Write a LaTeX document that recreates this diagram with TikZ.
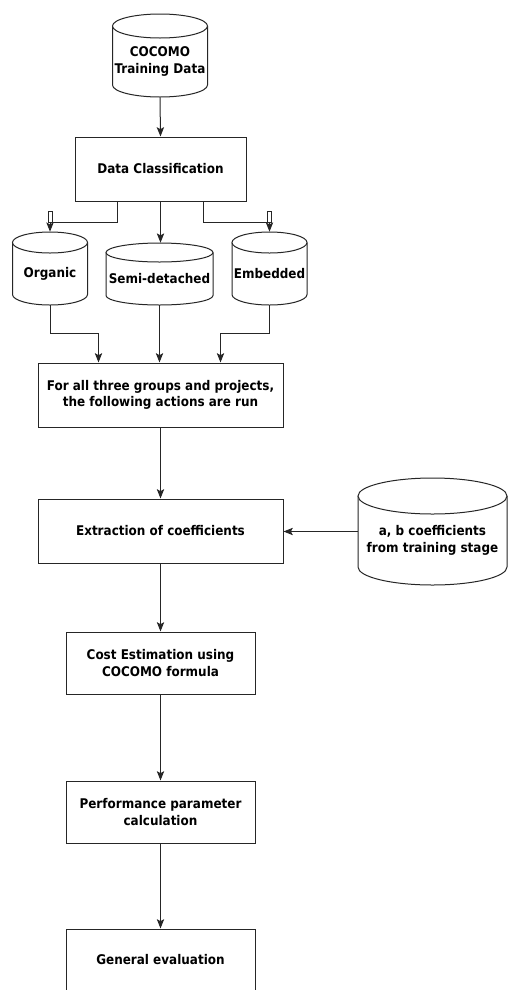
\documentclass[tikz,border=0pt]{standalone}
\usepackage{fontspec}
\setmainfont{DejaVu Sans Condensed}
\usetikzlibrary{calc,arrows.meta}

% database-style cylinder: name, centre x, top y, bottom y, half width, cap radius, text
\newcommand{\dbcylinder}[7]{%
  \fill[white] ({#2-#5},{#3+#6}) -- ({#2-#5},{#4-#6})
    arc[start angle=180,end angle=0,x radius=#5,y radius=#6]
    -- ({#2+#5},{#3+#6}) -- cycle;
  \draw[outline] ({#2-#5},{#3+#6}) -- ({#2-#5},{#4-#6})
    arc[start angle=180,end angle=0,x radius=#5,y radius=#6]
    -- ({#2+#5},{#3+#6});
  \draw[outline,fill=white] (#2,{#3+#6}) ellipse[x radius=#5,y radius=#6];
  \node[anchor=center,inner sep=0pt,minimum width={2*#5*0.75pt},
        minimum height={(#4-#3)*0.75pt}] (#1) at (#2,{(#3+#4)/2}) {};
  \node[label] (#1-txt) at (#2,{(#3+#4)/2+#6/2}) {#7};
}

\begin{document}
\begin{tikzpicture}[x=0.75pt,y=-0.75pt,
  outline/.style={draw=black!85,line width=0.75pt},
  label/.style={font=\fontsize{10}{12.5}\selectfont\bfseries,align=center,
                text=black,inner sep=0pt},
  procbox/.style={outline,fill=white,label,minimum width=#1},
  flow/.style={draw=black!85,line width=0.75pt,
               -{Stealth[length=7pt,width=5.5pt,inset=1.5pt]}},
  hollowstub/.style={draw=black!85,line width=0.75pt,fill=white}]
\useasboundingbox[fill=white] (0,0) rectangle (508,990);

% stores
\dbcylinder{train}{160}{14}{97}{47.5}{12}{COCOMO\\Training Data}
\dbcylinder{org}{50}{232}{305}{37.5}{10.5}{Organic}
\dbcylinder{semi}{159.5}{243}{305}{53.5}{9.5}{Semi-detached}
\dbcylinder{emb}{269.5}{232}{305}{37.5}{10.5}{Embedded}
\dbcylinder{coef}{432.5}{478}{585}{74.5}{18}{a, b coefficients\\from training stage}

% process steps
\node[procbox=128.25pt,minimum height=48pt] (dc) at (160.5,169) {Data Classification};
\node[procbox=183.75pt,minimum height=48pt] (all) at (160.5,395)
  {For all three groups and projects,\\the following actions are run};
\node[procbox=183.75pt,minimum height=48pt] (ext) at (160.5,531) {Extraction of coefficients};
\node[procbox=141.75pt,minimum height=46.5pt] (cost) at (160.5,663)
  {Cost Estimation using\\COCOMO formula};
\node[procbox=141.75pt,minimum height=46.5pt] (perf) at (160.5,812)
  {Performance parameter\\calculation};
\node[procbox=141.75pt,minimum height=46.5pt] (gen) at (160.5,960) {General evaluation};

% connectors
\draw[flow] (train.south) -- (dc.north);
\draw[flow] ($(dc.south)+(-43.5,0)$) -- ++(0,21) -| (org.north);
\draw[hollowstub] ($(org.north)+(-2,-20)$) rectangle ($(org.north)+(2,-9)$);
\draw[flow] (dc.south) -- (dc.south |- semi.north);
\draw[flow] ($(dc.south)+(42.5,0)$) -- ++(0,21) -| (emb.north);
\draw[hollowstub] ($(emb.north)+(-2,-20)$) rectangle ($(emb.north)+(2,-9)$);

\draw[flow] (org.south) |- ($(all.north)+(-62,-29)$) -- ($(all.north)+(-62,0)$);
\draw[flow] (semi.south) -- (semi.south |- all.north);
\draw[flow] (emb.south) |- ($(all.north)+(60,-29)$) -- ($(all.north)+(60,0)$);

\draw[flow] (all.south) -- (ext.north);
\draw[flow] (coef.west) -- (coef.west -| ext.east);
\draw[flow] (ext.south) -- (cost.north);
\draw[flow] (cost.south) -- (perf.north);
\draw[flow] (perf.south) -- (gen.north);
\end{tikzpicture}
\end{document}
